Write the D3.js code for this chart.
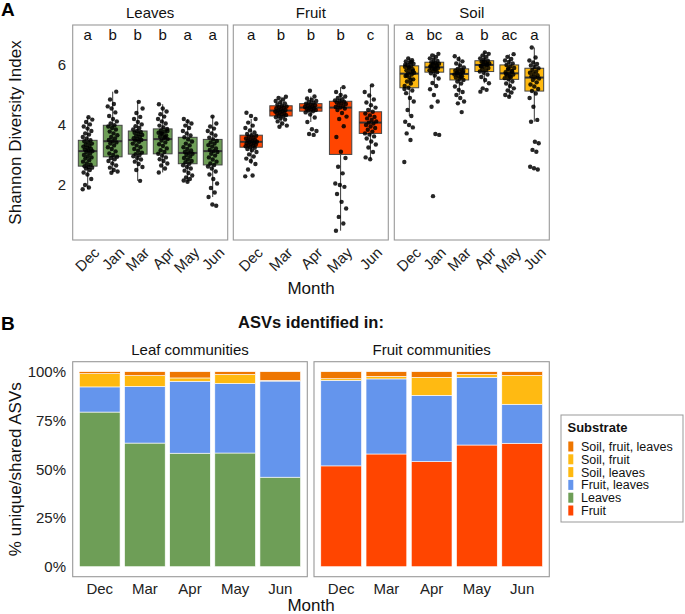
<!DOCTYPE html>
<html><head><meta charset="utf-8">
<script src="https://cdn.jsdelivr.net/npm/d3@7"></script>
<style>
body{margin:0;background:#fff;}
svg{display:block;font-family:"Liberation Sans",Arial,Helvetica,sans-serif;}
</style></head>
<body><svg id="c" width="685" height="614"></svg>
<script>
// ---------- Panel A data ----------
const facetsA = ["Leaves","Fruit","Soil"];
const monthsLeaves = ["Dec","Jan","Mar","Apr","May","Jun"];
const monthsFruit = ["Dec","Mar","Apr","May","Jun"];
const monthsSoil = ["Dec","Jan","Mar","Apr","May","Jun"];
const lettersLeaves = ["a","b","b","b","a","a"];
const lettersFruit = ["a","b","b","b","c"];
const lettersSoil = ["a","bc","a","b","ac","a"];
const yTicksA = [2,4,6];
// box stats [q1, median, q3]
const boxLeaves = [[2.63,3.13,3.49],[2.94,3.46,3.99],[3.03,3.50,3.80],[3.04,3.53,3.87],[2.71,3.07,3.59],[2.67,3.13,3.52]];
const boxFruit = [[3.26,3.44,3.66],[4.30,4.48,4.64],[4.46,4.58,4.71],[3.02,4.58,4.79],[3.72,4.08,4.44]];
const boxSoil = [[5.24,5.71,5.97],[5.76,5.92,6.09],[5.50,5.70,5.87],[5.78,6.00,6.14],[5.52,5.72,6.00],[5.13,5.58,5.89]];
// observed values
const ptsLeaves = [
 [1.86,1.92,2.0,2.2,2.35,2.42,2.5,2.55,2.58,2.6,2.63,2.68,2.72,2.78,2.83,2.88,2.92,2.96,3.0,3.05,3.1,3.13,3.15,3.18,3.2,3.24,3.28,3.3,3.34,3.38,3.42,3.46,3.49,3.55,3.6,3.68,3.72,3.8,3.88,3.95,4.02,4.1,4.18,4.26],
 [2.41,2.45,2.5,2.58,2.65,2.72,2.8,2.86,2.9,2.94,3.0,3.05,3.12,3.2,3.26,3.32,3.38,3.42,3.46,3.5,3.55,3.6,3.66,3.72,3.78,3.85,3.9,3.95,3.99,4.05,4.12,4.2,4.3,4.42,4.55,4.62,4.7,4.85,5.11],
 [2.14,2.5,2.6,2.7,2.78,2.85,2.9,2.96,3.0,3.03,3.08,3.14,3.2,3.26,3.32,3.38,3.44,3.48,3.5,3.53,3.56,3.6,3.63,3.67,3.7,3.74,3.77,3.8,3.85,3.9,3.96,4.02,4.1,4.2,4.27,4.4,4.55,4.77],
 [2.42,2.55,2.65,2.72,2.8,2.86,2.92,2.98,3.04,3.1,3.16,3.22,3.3,3.36,3.42,3.48,3.53,3.57,3.61,3.65,3.7,3.74,3.78,3.82,3.87,3.92,3.98,4.05,4.12,4.2,4.28,4.36,4.45,4.55,4.69,3.6,3.72,3.8],
 [2.11,2.15,2.2,2.25,2.32,2.4,2.48,2.55,2.6,2.66,2.71,2.76,2.8,2.85,2.9,2.95,3.0,3.04,3.07,3.1,3.15,3.2,3.26,3.32,3.38,3.45,3.52,3.59,3.65,3.72,3.8,3.9,3.98,4.05,4.12,4.2],
 [1.31,1.35,1.6,1.75,1.9,2.05,2.2,2.35,2.45,2.55,2.62,2.67,2.72,2.78,2.85,2.92,2.98,3.04,3.1,3.13,3.17,3.22,3.28,3.33,3.38,3.42,3.47,3.52,3.58,3.65,3.72,3.8,3.88,3.95,4.05,4.28]
];
const ptsFruit = [
 [2.29,2.32,2.52,2.7,2.8,2.88,2.95,3.02,3.1,3.16,3.2,3.24,3.26,3.29,3.31,3.33,3.35,3.37,3.39,3.41,3.43,3.44,3.46,3.48,3.5,3.52,3.55,3.58,3.61,3.64,3.66,3.7,3.75,3.82,3.9,3.98,4.08,4.2,4.3,4.41],
 [3.94,3.98,4.05,4.12,4.18,4.22,4.26,4.28,4.3,4.33,4.36,4.39,4.4,4.42,4.45,4.47,4.48,4.5,4.53,4.56,4.58,4.59,4.62,4.64,4.68,4.72,4.76,4.8,4.85,4.9,4.94],
 [3.67,3.7,3.8,3.86,4.1,4.25,4.35,4.42,4.46,4.48,4.5,4.52,4.54,4.56,4.58,4.6,4.62,4.64,4.66,4.68,4.71,4.74,4.77,4.8,4.84,4.88,4.95,5.14],
 [0.48,0.72,0.94,1.22,1.44,1.7,1.94,2.0,2.05,2.39,2.61,2.9,3.11,3.6,3.96,4.2,4.28,4.4,4.5,4.55,4.58,4.6,4.63,4.66,4.7,4.72,4.75,4.77,4.79,4.82,4.86,4.9,4.95,5.0,5.1,5.26],
 [2.86,2.92,3.1,3.25,3.35,3.45,3.55,3.62,3.68,3.72,3.78,3.84,3.9,3.95,4.0,4.05,4.08,4.12,4.17,4.22,4.27,4.32,4.38,4.44,4.5,4.58,4.66,4.75,4.85,4.98,5.1,5.32]
];
const ptsSoil = [
 [2.77,3.5,3.72,3.92,4.0,4.11,4.3,4.5,4.78,4.9,5.06,5.15,5.24,5.3,5.38,5.45,5.52,5.58,5.63,5.68,5.71,5.74,5.78,5.82,5.86,5.9,5.94,5.97,6.0,6.04,6.08,6.12,6.16,6.22,5.2,5.5,5.65,5.8,5.92,6.02,6.1],
 [1.63,3.67,3.7,4.61,4.78,5.0,5.19,5.3,5.4,5.55,5.65,5.72,5.76,5.79,5.82,5.85,5.88,5.9,5.92,5.95,5.98,6.01,6.04,6.07,6.09,6.13,6.18,6.22,6.27,6.32,6.37,5.86,5.96,6.0,6.05],
 [4.43,4.72,4.78,4.9,5.0,5.1,5.17,5.28,5.38,5.45,5.5,5.54,5.58,5.62,5.65,5.68,5.7,5.72,5.75,5.78,5.81,5.84,5.87,5.92,5.98,6.05,6.12,6.2,6.29,5.6,5.74,5.8],
 [5.11,5.17,5.22,5.39,5.5,5.6,5.68,5.74,5.78,5.82,5.86,5.9,5.94,5.97,6.0,6.02,6.05,6.08,6.11,6.14,6.18,6.22,6.27,6.32,6.37,6.42,5.95,6.03,6.1],
 [4.94,5.0,5.08,5.15,5.22,5.3,5.38,5.45,5.52,5.56,5.6,5.64,5.68,5.72,5.76,5.8,5.85,5.9,5.95,6.0,6.05,6.1,6.15,6.2,6.27,6.36,5.62,5.7,5.78,5.88],
 [2.52,2.56,2.61,3.11,3.17,3.39,3.44,4.11,4.17,4.61,4.9,5.05,5.13,5.2,5.28,5.35,5.42,5.5,5.55,5.58,5.62,5.66,5.7,5.74,5.78,5.83,5.89,5.93,5.98,6.03,6.08,6.15,6.25,6.58]
];

// ---------- Panel B data ----------
const facetsB = ["Leaf communities","Fruit communities"];
const monthsB = ["Dec","Mar","Apr","May","Jun"];
const substrates = ["Soil, fruit, leaves","Soil, fruit","Soil, leaves","Fruit, leaves","Leaves","Fruit"];
const substrateColors = ["#EE7600","#FFBA12","#FFB90F","#6495ED","#6E9E57","#FF4500"];
const yTicksB = [0,0.25,0.5,0.75,1];
// percentages per month (Dec, Mar, Apr, May, Jun)
const leafSFL = [1.0,2.0,3.2,1.4,4.5];
const leafSF = [0,0,0,0,0];
const leafSL = [6.8,5.5,1.7,4.6,0.3];
const leafFL = [12.9,29.1,36.9,35.7,49.3];
const leafL = [79.3,63.4,58.2,58.3,45.9];
const leafF = [0,0,0,0,0];
const fruitSFL = [3.6,2.4,2.9,1.5,1.9];
const fruitSF = [0.8,1.3,9.2,1.4,14.8];
const fruitSL = [0,0,0,0,0];
const fruitFL = [43.9,38.5,34.0,34.7,20.0];
const fruitL = [0,0,0,0,0];
const fruitF = [51.7,57.8,53.9,62.4,63.3];

// ---------- drawing ----------
const svg = d3.select("#c");
const FONT_T = 15;
const A = {top:25, bottom:240};
const panelsA = [
  {name:"Leaves", x0:72.7, x1:227.7, months:monthsLeaves, box:boxLeaves, pts:ptsLeaves, letters:lettersLeaves, fill:"#6E9E57"},
  {name:"Fruit", x0:233.3, x1:388.3, months:monthsFruit, box:boxFruit, pts:ptsFruit, letters:lettersFruit, fill:"#FF4500"},
  {name:"Soil", x0:394.3, x1:549.3, months:monthsSoil, box:boxSoil, pts:ptsSoil, letters:lettersSoil, fill:"#FFB90F"}
];
const yA = d3.scaleLinear().domain([0.17,7.33]).range([A.bottom, A.top]);

svg.append("text").attr("x",1).attr("y",16).attr("font-size",19).attr("font-weight","bold").text("A");

// y axis A
svg.append("g").selectAll("text").data(yTicksA).join("text")
  .attr("x",66).attr("y",d=>yA(d)).attr("dy","0.36em").attr("text-anchor","end")
  .attr("font-size",FONT_T).attr("fill","#222").text(d=>d);
svg.append("text").attr("transform",`translate(21,${(A.top+A.bottom)/2}) rotate(-90)`)
  .attr("text-anchor","middle").attr("font-size",17).attr("fill","#111").text("Shannon Diversity Index");

panelsA.forEach(p=>{
  const g = svg.append("g");
  const x = d3.scalePoint().domain(p.months).range([p.x0,p.x1]).padding(0.6);
  const step = x.step();
  const bw = step*0.75;
  g.append("text").attr("x",(p.x0+p.x1)/2).attr("y",18).attr("text-anchor","middle")
    .attr("font-size",15).attr("fill","#111").text(p.name);
  p.months.forEach((m,i)=>{
    const [q1,med,q3] = p.box[i];
    const iqr = q3-q1;
    const vals = p.pts[i];
    const lo = d3.min(vals.filter(v=>v>=q1-1.5*iqr));
    const hi = d3.max(vals.filter(v=>v<=q3+1.5*iqr));
    const cx = x(m);
    g.append("line").attr("x1",cx).attr("x2",cx).attr("y1",yA(hi)).attr("y2",yA(q3)).attr("stroke","#222").attr("stroke-width",0.9);
    g.append("line").attr("x1",cx).attr("x2",cx).attr("y1",yA(q1)).attr("y2",yA(lo)).attr("stroke","#222").attr("stroke-width",0.9);
    g.append("rect").attr("x",cx-bw/2).attr("width",bw).attr("y",yA(q3)).attr("height",yA(q1)-yA(q3))
      .attr("fill",p.fill).attr("stroke","#444").attr("stroke-width",1);
    g.append("line").attr("x1",cx-bw/2).attr("x2",cx+bw/2).attr("y1",yA(med)).attr("y2",yA(med)).attr("stroke","#333").attr("stroke-width",2);
  });
  p.months.forEach((m,i)=>{
    const cx = x(m);
    g.append("g").selectAll("circle").data(p.pts[i]).join("circle")
      .attr("cx",(d,j)=>cx + (((j*0.61803398875+i*0.37)%1)-0.5)*2*0.2*step)
      .attr("cy",d=>yA(d)).attr("r",2.2).attr("fill","#000").attr("fill-opacity",0.85);
    g.append("text").attr("x",cx).attr("y",40).attr("text-anchor","middle").attr("font-size",15).attr("fill","#111").text(p.letters[i]);
    g.append("text").attr("transform",`translate(${cx+5},246) rotate(-45)`).attr("dy","0.72em")
      .attr("text-anchor","end").attr("font-size",FONT_T).attr("fill","#222").text(m);
  });
  g.append("rect").attr("x",p.x0).attr("y",A.top).attr("width",p.x1-p.x0).attr("height",A.bottom-A.top)
    .attr("fill","none").attr("stroke","#999").attr("stroke-width",1.1);
});
svg.append("text").attr("x",311).attr("y",294).attr("text-anchor","middle").attr("font-size",17).attr("fill","#111").text("Month");

// ---------- Panel B ----------
const B = {top:361.7, bottom:576.7};
const yB = d3.scaleLinear().domain([0,1]).range([566.7,371.7]);
svg.append("text").attr("x",1).attr("y",330).attr("font-size",19).attr("font-weight","bold").text("B");
svg.append("text").attr("x",311).attr("y",328).attr("text-anchor","middle").attr("font-size",16.5).attr("font-weight","bold").attr("fill","#111").text("ASVs identified in:");
svg.append("g").selectAll("text").data(yTicksB).join("text")
  .attr("x",66).attr("y",d=>yB(d)).attr("dy","0.36em").attr("text-anchor","end")
  .attr("font-size",FONT_T).attr("fill","#222").text(d=>d3.format(".0%")(d));
svg.append("text").attr("transform",`translate(21,${(B.top+B.bottom)/2}) rotate(-90)`)
  .attr("text-anchor","middle").attr("font-size",17).attr("fill","#111").text("% unique/shared ASVs");

const seriesB = [
  [leafSFL,leafSF,leafSL,leafFL,leafL,leafF],
  [fruitSFL,fruitSF,fruitSL,fruitFL,fruitL,fruitF]
];
const panelsB = [{x0:72.7,x1:307.3},{x0:314,x1:549.3}];
panelsB.forEach((p,k)=>{
  const g = svg.append("g");
  const x = d3.scaleBand().domain(monthsB).range([p.x0,p.x1]).paddingInner(0.1).paddingOuter(0.15);
  const rows = monthsB.map((m,i)=>{
    const r = {month:m};
    substrates.forEach((s,j)=>{ r[s] = seriesB[k][j][i]/100; });
    return r;
  });
  const keys = substrates.slice().reverse();
  const stack = d3.stack().keys(keys)(rows);
  const color = d3.scaleOrdinal().domain(substrates).range(substrateColors);
  stack.forEach(layer=>{
    g.append("g").selectAll("rect").data(layer.filter(d=>d[1]-d[0]>0)).join("rect")
      .attr("x",d=>x(d.data.month)).attr("width",x.bandwidth())
      .attr("y",d=>yB(d[1])).attr("height",d=>yB(d[0])-yB(d[1]))
      .attr("fill",color(layer.key)).attr("stroke","#fff").attr("stroke-width",0.6);
  });
  g.append("text").attr("x",(p.x0+p.x1)/2).attr("y",355).attr("text-anchor","middle")
    .attr("font-size",15).attr("fill","#111").text(facetsB[k]);
  g.selectAll("text.xt").data(monthsB).join("text").attr("class","xt")
    .attr("x",d=>x(d)+x.bandwidth()/2).attr("y",594).attr("text-anchor","middle")
    .attr("font-size",FONT_T).attr("fill","#222").text(d=>d);
  g.append("rect").attr("x",p.x0).attr("y",B.top).attr("width",p.x1-p.x0).attr("height",B.bottom-B.top)
    .attr("fill","none").attr("stroke","#999").attr("stroke-width",1.1);
});
svg.append("text").attr("x",311).attr("y",611).attr("text-anchor","middle").attr("font-size",17).attr("fill","#111").text("Month");

// legend
const lg = svg.append("g");
lg.append("rect").attr("x",561).attr("y",415).attr("width",122).attr("height",107).attr("fill","#fff").attr("stroke","#999").attr("stroke-width",1);
lg.append("text").attr("x",567.5).attr("y",432).attr("font-size",13).attr("font-weight","bold").attr("fill","#111").text("Substrate");
substrates.forEach((s,i)=>{
  const cy = 446.5 + i*12.8;
  lg.append("rect").attr("x",568.3).attr("y",cy-5).attr("width",5).attr("height",10).attr("fill",substrateColors[i]);
  lg.append("text").attr("x",581).attr("y",cy).attr("dy","0.36em").attr("font-size",12.5).attr("fill","#111").text(s);
});
</script></body></html>
